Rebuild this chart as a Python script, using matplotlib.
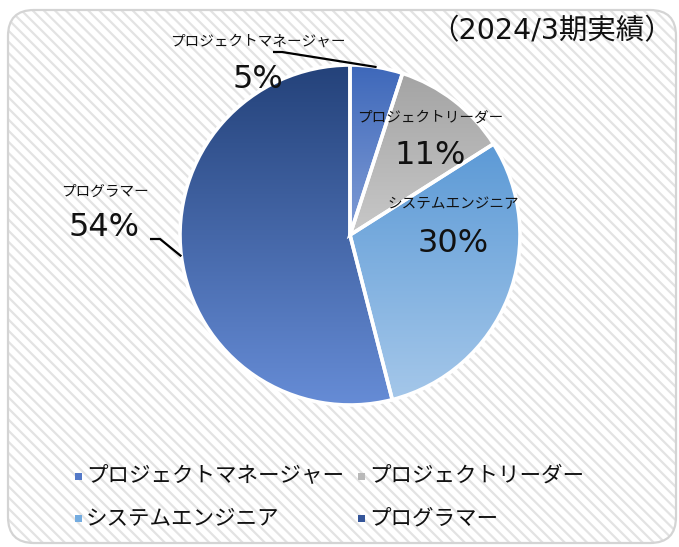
import numpy as np
import matplotlib
matplotlib.use("Agg")
import matplotlib.pyplot as plt
from matplotlib.patches import FancyBboxPatch, Rectangle
from matplotlib.colors import to_rgb

plt.rcParams['font.family'] = ['Noto Sans CJK JP', 'DejaVu Sans']
plt.rcParams['hatch.linewidth'] = 1.6
num_font = ['DejaVu Sans', 'Noto Sans CJK JP']

# Data
categories = ["プロジェクトマネージャー", "プロジェクトリーダー", "システムエンジニア", "プログラマー"]
shares = [5, 11, 30, 54]
title = "（2024/3期実績）"

# Gradient colours per slice (top, bottom)
grad_top = ["#3e68ba", "#a2a2a2", "#468cd0", "#24427a"]
grad_bottom = ["#c4d2f2", "#eeeeee", "#a6c8ea", "#668cd6"]
legend_colors = ["#5479c8", "#b9b9b9", "#74ace0", "#35569a"]

W, H = 679, 547
fig = plt.figure(figsize=(W / 100, H / 100), dpi=100)
ax = fig.add_axes([0, 0, 1, 1])


def py(y):
    """Convert a top-down pixel row to the axes' y coordinate."""
    return H - y


# Panel with diagonal stripes and rounded border
panel_kw = dict(boxstyle="round,pad=0,rounding_size=26")
ax.add_patch(FancyBboxPatch((8, py(543)), 668, 533, facecolor="white",
                            edgecolor="none", zorder=0, **panel_kw))
ax.add_patch(FancyBboxPatch((8, py(543)), 668, 533, facecolor="none",
                            edgecolor="#e3e3e3", hatch="\\\\\\", linewidth=0,
                            zorder=0.5, **panel_kw))
ax.add_patch(FancyBboxPatch((8, py(543)), 668, 533, facecolor="none",
                            edgecolor="#d4d4d4", linewidth=1.6,
                            zorder=0.6, **panel_kw))

# Pie
cx, cy, r = 350, py(235), 170
wedges, _ = ax.pie(shares, startangle=90, counterclock=False,
                   center=(cx, cy), radius=r,
                   wedgeprops=dict(edgecolor="white", linewidth=2.6))

n = 256
t = np.linspace(0, 1, n)[:, None, None]
for w, c0, c1 in zip(wedges, grad_top, grad_bottom):
    a, b = np.array(to_rgb(c0)), np.array(to_rgb(c1))
    grad = a[None, None, :] * (1 - t) + b[None, None, :] * t
    im = ax.imshow(grad, extent=(cx - r, cx + r, cy - r, cy + r),
                   origin="upper", aspect="auto", interpolation="bilinear",
                   zorder=2)
    im.set_clip_path(w)
    w.set_facecolor("none")
    w.set_zorder(3)


def edge_point(w):
    mid = np.deg2rad((w.theta1 + w.theta2) / 2)
    return cx + r * np.cos(mid), cy + r * np.sin(mid)


# Data labels: (name x, name y, pct x, pct y) in pixel rows
label_pos = [(258, 42, 258, 80), (430, 118, 430, 155),
             (453, 204, 453, 243), (105, 192, 104, 228)]
for cat, val, (nx, ny, vx, vy) in zip(categories, shares, label_pos):
    ax.text(nx, py(ny), cat, fontsize=10.5, ha="center", va="center",
            color="#111111", zorder=5)
    ax.text(vx, py(vy), f"{val}%", fontsize=23, ha="center", va="center",
            color="#111111", zorder=5, family=num_font)

# Leader lines for the outside labels
ex, ey = edge_point(wedges[0])
ax.plot([273, 282, ex], [py(52), py(52), ey], color="black", lw=1.6,
        zorder=4, solid_capstyle="butt")
ex, ey = edge_point(wedges[3])
ax.plot([150, 160, ex], [py(239), py(239), ey], color="black", lw=1.6,
        zorder=4, solid_capstyle="butt")

# Title
ax.text(673, py(31), title, fontsize=20.5, ha="right", va="center",
        color="#111111", zorder=5, family=num_font)

# Legend
leg_xy = [(78, 476), (361, 476), (78, 518), (361, 518)]
for cat, col, (lx, ly) in zip(categories, legend_colors, leg_xy):
    ax.add_patch(Rectangle((lx - 3.5, py(ly) - 3.5), 7, 7, facecolor=col,
                           edgecolor="none", zorder=5))
    ax.text(lx + 8, py(ly), cat, fontsize=15.5, ha="left", va="center",
            color="#111111", zorder=5)

ax.set_xlim(0, W)
ax.set_ylim(0, H)
ax.set_aspect("auto")
ax.axis("off")

fig.savefig("out.png", dpi=100, facecolor="white")
